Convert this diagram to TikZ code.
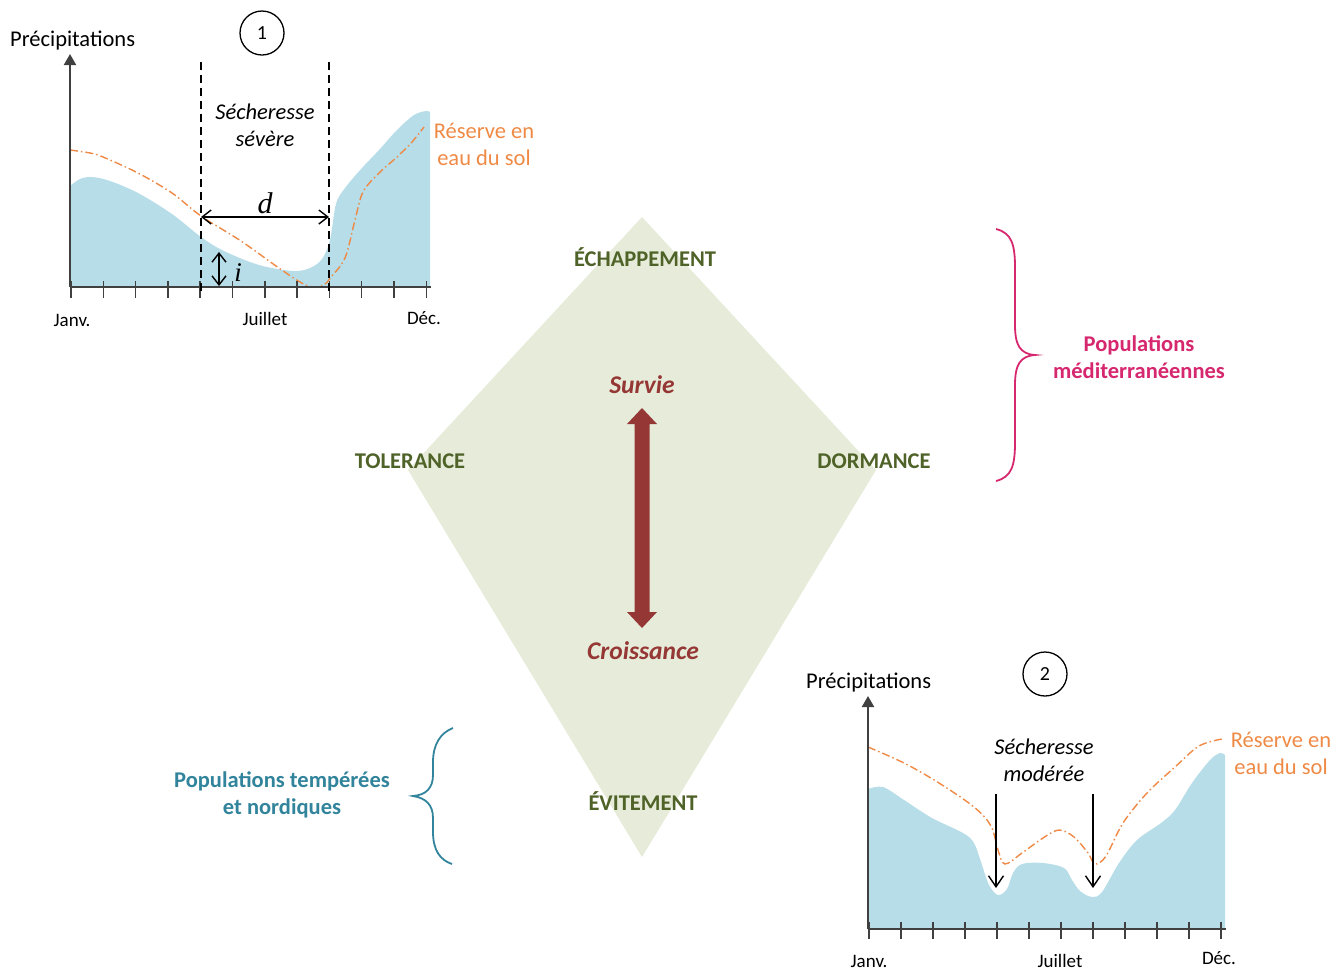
\documentclass[tikz,border=0pt]{standalone}
\usepackage{fontspec}
\setmainfont{Carlito}
\newfontfamily\mathserif{Liberation Serif}
\usetikzlibrary{arrows.meta,calc}
\definecolor{rainblue}{HTML}{B7DDE8}
\definecolor{soilorange}{HTML}{EE8A45}
\definecolor{diamondfill}{HTML}{E6ECD9}
\definecolor{olivetxt}{HTML}{4F6228}
\definecolor{survred}{HTML}{953735}
\definecolor{medpink}{HTML}{D6286F}
\definecolor{teal}{HTML}{31849B}
\definecolor{axisgray}{HTML}{404040}
\tikzset{
  lbl/.style={font=\fontsize{22.5}{27}\selectfont, inner sep=0pt, align=center},
  month/.style={font=\fontsize{19}{22}\selectfont, inner sep=0pt},
  strat/.style={font=\fontsize{22.5}{26}\selectfont\bfseries, text=olivetxt, inner sep=0pt},
  goal/.style={font=\fontsize{25.5}{30}\selectfont\bfseries\itshape, text=survred, inner sep=0pt},
  popu/.style={font=\fontsize{22.5}{27}\selectfont\bfseries, inner sep=0pt, align=center},
  axisline/.style={draw=axisgray, line width=2pt},
  ticks/.style={draw=axisgray, line width=1.5pt},
  soil/.style={draw=soilorange, line width=1.4pt, dash pattern=on 8pt off 3pt on 1.5pt off 3pt},
  numcircle/.style={draw, circle, line width=1.3pt, minimum size=44pt, inner sep=0pt, font=\fontsize{20}{24}\selectfont},
  dimarrow/.style={line width=1.4pt, {Straight Barb[length=9pt,width=14pt]}-{Straight Barb[length=9pt,width=14pt]}},
  downarrow/.style={line width=1.4pt, -{Straight Barb[length=11pt,width=15pt]}},
  bracepink/.style={draw=medpink, line width=1.8pt},
  braceteal/.style={draw=teal, line width=1.8pt}
}
\begin{document}
\begin{tikzpicture}[x=1pt,y=-1pt]
\useasboundingbox (0,0) rectangle (1344,970);

% ---------------- diamond ----------------
\coordinate (dT) at (642,217);
\coordinate (dL) at (408,470);
\coordinate (dR) at (876,470);
\coordinate (dB) at (642,857);
\fill[diamondfill] (dT) -- (dR) -- (dB) -- (dL) -- cycle;

\node[strat] (echap) at (645,257) {ÉCHAPPEMENT};
\node[strat] (toler) at (410,461) {TOLERANCE};
\node[strat] (dorm) at (874,461) {DORMANCE};
\node[strat] (evit) at (643,801) {ÉVITEMENT};
\node[goal] (survie) at (642,385) {Survie};
\node[goal] (crois) at (643,651) {Croissance};

\coordinate (aTop) at (642,408);
\coordinate (aBot) at (642,628);
\fill[survred] (aTop) -- ($(aTop)+(15,16)$) -- ($(aTop)+(7.5,16)$) -- ($(aBot)+(7.5,-16)$)
  -- ($(aBot)+(15,-16)$) -- (aBot) -- ($(aBot)+(-15,-16)$) -- ($(aBot)+(-7.5,-16)$)
  -- ($(aTop)+(-7.5,16)$) -- ($(aTop)+(-15,16)$) -- cycle;

% ---------------- braces ----------------
\draw[bracepink] (996,229) .. controls (1012,233) and (1015,245) .. (1015,268)
  -- (1015,325) .. controls (1015,345) and (1020,354) .. (1035,355)
  .. controls (1020,356) and (1015,365) .. (1015,385)
  -- (1015,442) .. controls (1015,465) and (1012,477) .. (996,481);
\node[popu, text=medpink] (medit) at (1139,357) {Populations\\méditerranéennes};

\draw[braceteal] (453,728) .. controls (440,733) and (433,745) .. (433,762)
  -- (433,775) .. controls (433,788) and (426,795) .. (413,796)
  .. controls (426,798) and (433,805) .. (433,818)
  -- (433,832) .. controls (433,850) and (440,860) .. (452,864);
\node[popu, text=teal] (tempe) at (282,795) {Populations tempérées\\et nordiques};

% ---------------- chart 1 ----------------
\fill[rainblue] (70,287) -- plot[smooth, tension=0.55] coordinates {
  (70,186) (80,179) (92,177) (110,181) (138,193) (172,214) (201,237) (224,251)
  (259,265) (293,271) (310,268) (322,259) (330,240) (336,204) (345,188) (362,168)
  (379,150) (397,130) (414,115) (426,111) (430,112)} -- (430,287) -- cycle;
\draw[soil] plot[smooth, tension=0.55] coordinates {
  (70,150) (90,153) (103,157) (138,173) (172,193) (201,216) (241,241) (276,266)
  (300,282) (312,287) (324,285) (331,277) (345,258) (355,220) (363,192) (379,173)
  (397,157) (412,142) (424,127)};

\node[lbl, anchor=west] (prec1) at (10,41) {Précipitations};
\node[numcircle] (c1) at (262,33) {1};
\coordinate (o1) at (70,287);
\coordinate (y1) at (70,54);
\coordinate (x1) at (431,287);
\draw[axisline, -{Triangle[width=12pt,length=11pt]}] (o1) -- (y1);
\draw[axisline] (o1) -- (x1);
\foreach \i in {0,...,11} \draw[ticks] ({71+\i*32.3},281) -- ++(0,17);
\node[month] (jan1) at (72,320) {Janv.};
\node[month] (jul1) at (265,319) {Juillet};
\node[month] (dec1) at (424,318) {Déc.};

\coordinate (dash1t) at (201,62);
\coordinate (dash1b) at (201,294);
\coordinate (dash2t) at (329,62);
\coordinate (dash2b) at (329,294);
\draw[line width=1.3pt, dash pattern=on 8pt off 5pt] (dash1t) -- (dash1b);
\draw[line width=1.3pt, dash pattern=on 8pt off 5pt] (dash2t) -- (dash2b);
\node[lbl, font=\fontsize{22.5}{27}\selectfont\itshape] (sev) at (265,125) {Sécheresse\\sévère};

\coordinate (dl) at (201,217);
\coordinate (dr) at (329,217);
\draw[dimarrow] (dl) -- (dr);
\node[inner sep=0pt, font=\fontsize{30}{32}\mathserif\itshape] (dlab) at (265,203) {d};
\coordinate (it) at (219,252);
\coordinate (ib) at (219,286);
\draw[dimarrow] (it) -- (ib);
\node[inner sep=0pt, font=\fontsize{27}{30}\mathserif\itshape] (ilab) at (238,273) {i};

\node[lbl, text=soilorange] (res1) at (484,144) {Réserve en\\eau du sol};

% ---------------- chart 2 ----------------
\fill[rainblue] (868,929) -- plot[smooth, tension=0.55] coordinates {
  (868,789) (883,787) (904,800) (932,818) (963,833) (974,843) (981,862) (989,885)
  (998,895) (1007,889) (1013,873) (1022,864) (1043,863) (1064,868) (1072,880)
  (1080,891) (1092,897) (1102,892) (1119,863) (1137,840) (1161,823) (1175,810)
  (1192,783) (1210,760) (1220,753) (1225,755)} -- (1225,929) -- cycle;
\draw[soil] plot[smooth, tension=0.55] coordinates {
  (868,747) (904,763) (939,783) (974,807) (991,826) (998,850) (1005,864)
  (1022,853) (1043,838) (1059,830) (1074,837) (1088,853) (1095,864) (1106,856)
  (1123,823) (1147,793) (1175,767) (1199,746) (1222,739)};

\node[lbl, anchor=west] (prec2) at (806,683) {Précipitations};
\node[numcircle] (c2) at (1045,674) {2};
\coordinate (o2) at (868,929);
\coordinate (y2) at (868,696);
\coordinate (x2) at (1226,929);
\draw[axisline, -{Triangle[width=12pt,length=11pt]}] (o2) -- (y2);
\draw[axisline] (o2) -- (x2);
\foreach \i in {0,...,11} \draw[ticks] ({869+\i*32},922) -- ++(0,17);
\node[month] (jan2) at (869,961) {Janv.};
\node[month] (jul2) at (1060,961) {Juillet};
\node[month] (dec2) at (1219,958) {Déc.};

\node[lbl, font=\fontsize{22.5}{27}\selectfont\itshape] (mod) at (1044,760) {Sécheresse\\modérée};
\coordinate (ar1t) at (996,794);
\coordinate (ar1b) at (996,888);
\coordinate (ar2t) at (1093,794);
\coordinate (ar2b) at (1093,888);
\draw[downarrow] (ar1t) -- (ar1b);
\draw[downarrow] (ar2t) -- (ar2b);

\node[lbl, text=soilorange] (res2) at (1281,753) {Réserve en\\eau du sol};
\end{tikzpicture}
\end{document}
